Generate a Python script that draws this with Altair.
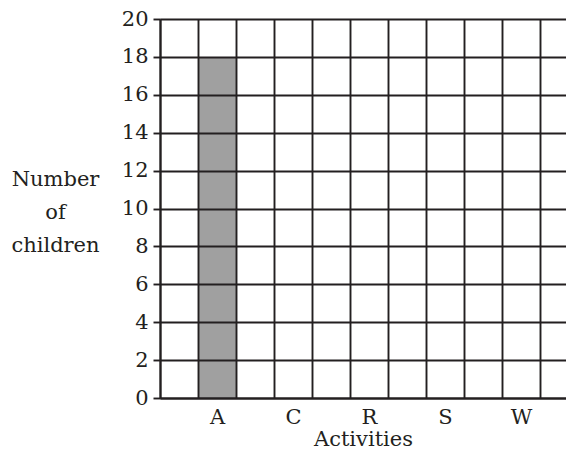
import altair as alt
import pandas as pd

activities = ["A", "C", "R", "S", "W"]
counts = [18, 0, 0, 0, 0]

df = pd.DataFrame({"activity": activities, "count": counts})
df["pos"] = [2 * i + 1 for i in range(len(activities))]
df["pos2"] = df["pos"] + 1

label_list = "[" + ",".join("'" + a + "'" for a in activities) + "]"
label_expr = (
    f"(datum.value % 2 == 1 && datum.value < {2*len(activities)}) ? "
    f"{label_list}[(datum.value - 1) / 2] : ''"
)

FONT = "DejaVu Serif"
INK = "#231f20"
PLOT_W = 406
UNIT = 38
LW = 1.9

chart = (
    alt.Chart(df)
    .mark_rect(color="#a0a0a0")
    .encode(
        x=alt.X(
            "pos:Q",
            scale=alt.Scale(domain=[0, PLOT_W / UNIT], nice=False, zero=False),
            axis=alt.Axis(
                values=list(range(0, 11)),
                labelExpr=label_expr,
                labelOffset=19,
                labelPadding=8,
                ticks=False,
                grid=True,
                gridColor=INK,
                gridWidth=LW,
                gridOpacity=1,
                domainColor=INK,
                domainWidth=LW,
                title="Activities",
                titleFontWeight="normal",
                titlePadding=1,
                zindex=1,
            ),
        ),
        x2="pos2:Q",
        y=alt.Y(
            "count:Q",
            scale=alt.Scale(domain=[0, 20], nice=False),
            axis=alt.Axis(
                values=list(range(0, 21, 2)),
                tickSize=7,
                tickColor=INK,
                tickWidth=LW,
                labelPadding=5,
                grid=True,
                gridColor=INK,
                gridWidth=LW,
                gridOpacity=1,
                domainColor=INK,
                domainWidth=LW,
                title=["Number", "of", "children"],
                titleAngle=0,
                titleAlign="center",
                titleBaseline="alphabetic",
                titleX=-105,
                titleY=166,
                titleLineHeight=33,
                titleFontWeight="normal",
                zindex=1,
            ),
        ),
        y2=alt.datum(0),
    )
    .properties(
        width=PLOT_W,
        height=379,
        autosize=alt.AutoSizeParams(type="none"),
        padding={"left": 152, "top": 11, "right": 0, "bottom": 53},
    )
    .configure_view(stroke=None)
    .configure_axis(
        labelFont=FONT,
        titleFont=FONT,
        labelFontSize=21,
        titleFontSize=21,
        labelColor=INK,
        titleColor=INK,
    )
)

chart.save("out.html", embed_options={"renderer": "svg", "actions": False})
